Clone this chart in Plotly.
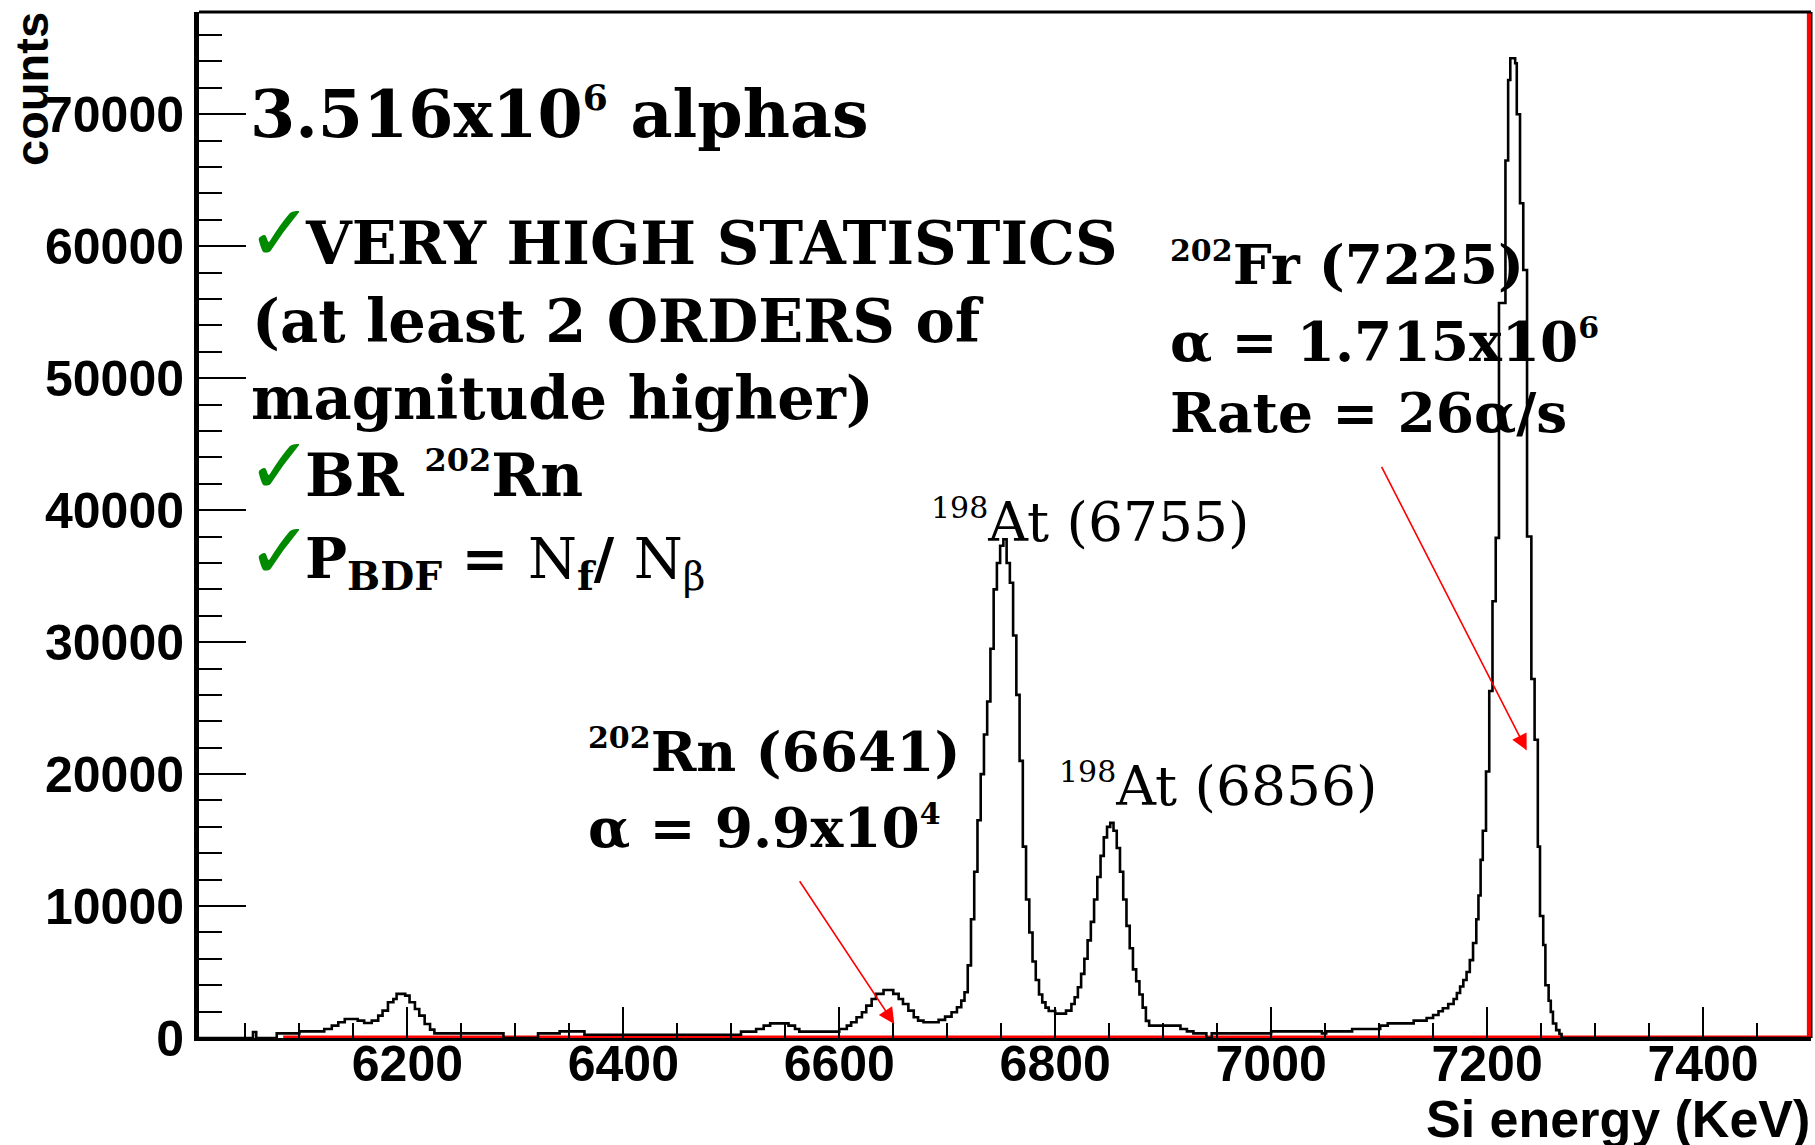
import plotly.graph_objects as go

# ---------------- data ----------------
# histogram: lower bin edges (keV); the last entry closes the final bin
bin_edges = [
    6007, 6057, 6060, 6079, 6100, 6123, 6130, 6136, 6142, 6154, 6160, 6167, 6173, 6177,
    6182, 6187, 6190, 6198, 6202, 6207, 6211, 6216, 6221, 6225, 6289, 6321, 6341, 6364,
    6509, 6523, 6530, 6536, 6553, 6559, 6563, 6600, 6607, 6611, 6616, 6621, 6625, 6630,
    6634, 6641, 6650, 6655, 6659, 6664, 6669, 6673, 6678, 6692, 6698, 6704, 6709, 6713,
    6716, 6719, 6722, 6725, 6728, 6731, 6734, 6737, 6740, 6743, 6746, 6749, 6752, 6755,
    6758, 6761, 6764, 6767, 6770, 6773, 6776, 6779, 6782, 6785, 6788, 6791, 6794, 6800,
    6810, 6815, 6818, 6821, 6824, 6827, 6830, 6833, 6836, 6839, 6842, 6845, 6848, 6851,
    6854, 6857, 6860, 6863, 6866, 6869, 6872, 6875, 6878, 6881, 6884, 6887, 6916, 6922,
    6928, 6940, 6945, 7000, 7047, 7051, 7075, 7101, 7108, 7132, 7144, 7150, 7155, 7159,
    7164, 7169, 7172, 7175, 7178, 7181, 7184, 7187, 7190, 7192, 7194, 7196, 7199, 7202,
    7205, 7208, 7211, 7217, 7219.5, 7221.5, 7226, 7227.5, 7230.5, 7233.5, 7237, 7241,
    7244, 7247, 7249, 7252, 7254, 7257, 7259, 7261, 7264, 7267, 7269, 7500,
]
counts = [
    0, 450, 0, 350, 500, 680, 940, 1190, 1440, 1316, 1140, 1316, 1695, 2075,
    2707, 2960, 3340, 3213, 2707, 2200, 1695, 1063, 633, 350, 0, 350, 500, 250,
    480, 680, 940, 1110, 940, 680, 480, 680, 940, 1190, 1570, 1950, 2450, 2960,
    3340, 3640, 3340, 2960, 2580, 2075, 1570, 1316, 1190, 1370, 1620, 1950, 2330, 2830,
    3470, 5500, 9000, 12600, 16500, 20000, 23000, 25500, 29500, 34000, 36000, 37300, 37800, 36000,
    34500, 30500, 26000, 21000, 14500, 10500, 8000, 5800, 4400, 3300, 2700, 2300, 2050, 1850,
    2075, 2580, 3090, 3845, 4860, 6000, 7400, 8800, 10500, 12200, 13800, 15200, 16000, 16300,
    15700, 14400, 12600, 10500, 8500, 6800, 5200, 4300, 3300, 2300, 1300, 940, 680, 500,
    350, 0, 350, 500, 350, 500, 680, 940, 1110, 1316, 1520, 1745, 2025, 2250,
    2580, 2960, 3415, 3900, 4400, 5000, 5900, 7200, 9000, 10800, 13500, 15700, 20200, 26300,
    33100, 37900, 55700, 66500, 72600, 74250, 73870, 70000, 63260, 58200, 38000, 27200,
    22600, 14500, 9250, 7050, 4000, 2820, 1980, 1100, 600, 300, 0,
]

# red fit function (flat at zero, rising at the right edge)
fit_energy = [6085, 7498.5, 7498.5]
fit_counts = [0, 0, 90000]

x_tick_vals = [6200, 6400, 6600, 6800, 7000, 7200, 7400]
y_tick_vals = [0, 10000, 20000, 30000, 40000, 50000, 60000, 70000]
y_tick_text = [str(v) for v in y_tick_vals]

x_range = [6007, 7500]
y_range = [0, 77750]

# ---------------- layout geometry ----------------
FIG_W, FIG_H = 1815, 1145
L, R, T, B = 199, 4, 12, 107
W = FIG_W - L - R
H = FIG_H - T - B


def px(x):
    return (x - L) / W


def py(y):
    return (FIG_H - B - y) / H


SERIF = "DejaVu Serif"
SANS = "Liberation Sans"


def sup(s, size):
    return f'<sup><span style="font-size:{round(size * 0.55)}px">{s}</span></sup>'


def text_ann(s, x_left, baseline, size, weight="bold", family=SERIF,
             color="black", anchor="bottom"):
    if anchor == "bottom":
        y = py(baseline + 0.236 * size + 1)
    else:
        y = py(baseline - 0.928 * size - 1)
    return dict(text=s, xref="paper", yref="paper", x=px(x_left - 2), y=y,
                xanchor="left", yanchor=anchor, showarrow=False,
                font=dict(family=family, size=size, color=color, weight=weight))


def check_ann(x_left, baseline):
    size = 78
    return dict(text="✓", xref="paper", yref="paper", x=px(x_left),
                y=py(baseline + 0.236 * size + 1), xanchor="left", yanchor="bottom",
                showarrow=False,
                font=dict(family="DejaVu Sans", size=size, color="#008a00"))


fig = go.Figure()

fig.add_trace(go.Scatter(
    x=fit_energy, y=fit_counts, mode="lines",
    line=dict(color="#ff0000", width=5), hoverinfo="skip", showlegend=False))

fig.add_trace(go.Scatter(
    x=bin_edges, y=counts + [counts[-1]], mode="lines", line_shape="hv",
    line=dict(color="black", width=2.6), hoverinfo="skip", showlegend=False))

annotations = [
    text_ann("3.516x10" + sup("6", 65) + " alphas", 250, 138, 65),
    check_ann(245, 261),
    text_ann("VERY HIGH STATISTICS", 305, 265, 59),
    text_ann("(at least 2 ORDERS of", 252, 343, 59),
    text_ann("magnitude higher)", 251, 420, 59),
    check_ann(245, 494),
    text_ann("BR " + sup("202", 59) + "Rn", 305, 497, 59),
    check_ann(245, 579),
    text_ann("<b>P<sub>BDF</sub> = </b>N<b><sub>f</sub>/ </b>N<sub>β</sub>",
             305, 576, 56, weight="normal", anchor="top"),
    text_ann(sup("202", 55) + "Fr (7225)", 1170, 285, 55),
    text_ann("α = 1.715x10" + sup("6", 55), 1170, 362, 55),
    text_ann("Rate = 26α/s", 1170, 433, 55),
    text_ann(sup("198", 55) + "At (6755)", 931, 542, 55, weight="normal"),
    text_ann(sup("198", 55) + "At (6856)", 1059, 806, 55, weight="normal"),
    text_ann(sup("202", 55) + "Rn (6641)", 588, 772, 55),
    text_ann("α = 9.9x10" + sup("4", 55), 588, 848, 55),
    # axis titles
    dict(text="counts", xref="paper", yref="paper", x=px(32), y=py(10),
         xanchor="center", yanchor="top", textangle=-90, showarrow=False,
         font=dict(family=SANS, size=47, color="black", weight="bold")),
    dict(text="Si energy (KeV)", xref="paper", yref="paper", x=px(1812), y=py(1088),
         xanchor="right", yanchor="top", showarrow=False,
         font=dict(family=SANS, size=52, color="black", weight="bold")),
    # arrows
    dict(text="", x=6651, y=1061, ax=6562.4, ay=11996, xref="x", yref="y",
         axref="x", ayref="y", showarrow=True, arrowhead=2, arrowsize=2,
         arrowwidth=1.6, arrowcolor="#ff0000"),
    dict(text="", x=7236.7, y=21795, ax=7101.6, ay=43399, xref="x", yref="y",
         axref="x", ayref="y", showarrow=True, arrowhead=2, arrowsize=2,
         arrowwidth=1.6, arrowcolor="#ff0000"),
]

shapes = [
    dict(type="line", xref="paper", yref="paper", x0=0, x1=1, y0=1, y1=1,
         line=dict(color="black", width=3), layer="above"),
    dict(type="line", xref="paper", yref="paper", x0=1, x1=1, y0=0, y1=1,
         line=dict(color="black", width=3), layer="below"),
]

fig.update_layout(
    width=FIG_W, height=FIG_H,
    margin=dict(l=L, r=R, t=T, b=B, pad=0),
    paper_bgcolor="white", plot_bgcolor="white",
    showlegend=False,
    annotations=annotations,
    shapes=shapes,
    xaxis=dict(
        range=x_range, showgrid=False, zeroline=False,
        showline=True, linecolor="black", linewidth=3,
        ticks="inside", ticklen=31, tickwidth=2, tickcolor="black",
        tickmode="array", tickvals=x_tick_vals,
        minor=dict(ticks="inside", ticklen=15, tickwidth=2, tickcolor="black",
                   dtick=50, tick0=6000, showgrid=False),
        tickfont=dict(family=SANS, size=50, color="black", weight="bold"),
        ticklabelstandoff=-20,
    ),
    yaxis=dict(
        range=y_range, showgrid=False, zeroline=False,
        showline=True, linecolor="black", linewidth=5,
        ticks="inside", ticklen=47, tickwidth=2, tickcolor="black",
        tickmode="array", tickvals=y_tick_vals, ticktext=y_tick_text,
        minor=dict(ticks="inside", ticklen=23, tickwidth=2, tickcolor="black",
                   dtick=2000, tick0=0, showgrid=False),
        tickfont=dict(family=SANS, size=50, color="black", weight="bold"),
        ticklabelstandoff=0,
    ),
)

fig.write_html("out.html")
